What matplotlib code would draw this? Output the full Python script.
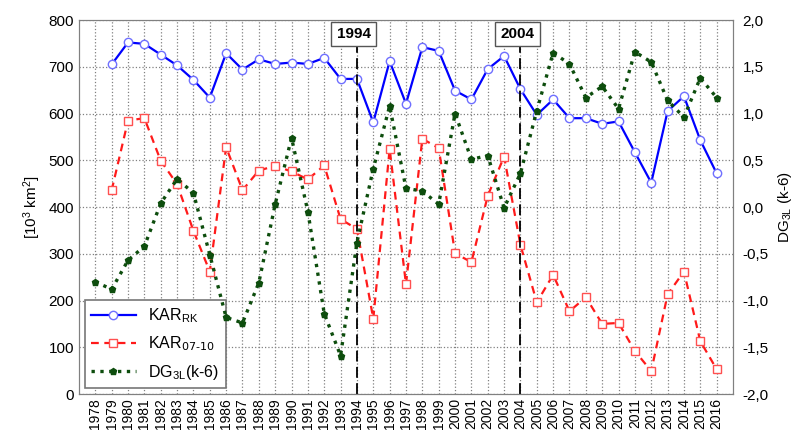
import matplotlib.pyplot as plt
import numpy as np

plt.rcParams['font.family'] = ['Liberation Sans', 'DejaVu Sans']
plt.rcParams['mathtext.default'] = 'regular'

years = list(range(1978, 2017))

# KAR_RK, starts 1979
kar_rk = [np.nan, 705, 752, 749, 726, 703, 672, 634, 729, 694, 716,
          706, 709, 706, 719, 674, 674, 581, 712, 621, 742,
          734, 649, 630, 695, 723, 652, 597, 630, 590, 590,
          578, 583, 517, 452, 605, 637, 543, 472]

# KAR_07-10, starts 1979
kar_0710 = [np.nan, 436, 585, 590, 499, 449, 349, 262, 528, 436, 478,
            488, 476, 459, 489, 374, 353, 161, 524, 235, 546,
            526, 301, 282, 424, 508, 319, 196, 255, 177, 207,
            150, 152, 92, 49, 213, 262, 113, 53]

# DG_3L(k-6), right axis
dg3l = [-0.80, -0.88, -0.57, -0.42, 0.04, 0.30, 0.15, -0.51, -1.18, -1.24, -0.81,
        0.03, 0.74, -0.05, -1.14, -1.59, -0.38, 0.41, 1.08, 0.20, 0.17,
        0.03, 1.00, 0.51, 0.55, -0.01, 0.36, 1.03, 1.65, 1.53, 1.17,
        1.29, 1.05, 1.66, 1.55, 1.14, 0.96, 1.38, 1.17]

marked_years = [1994, 2004]

fig = plt.figure(figsize=(8.01, 4.36), dpi=100)
ax = fig.add_axes([0.0986, 0.0963, 0.8165, 0.8578])
ax2 = ax.twinx()

l1, = ax.plot(years, kar_rk, '-', color='#0000ff', lw=1.6, marker='o',
              ms=6, mfc='white', mec='#6f6fff', mew=1.0, label='KAR$_{RK}$')
l2, = ax.plot(years, kar_0710, '--', color='#ff1a1a', lw=1.6, marker='s',
              ms=6, mfc='white', mec='#ff5050', mew=1.0, dashes=(3.5, 2.5),
              label='KAR$_{\\text{07-10}}$')
l3, = ax2.plot(years, dg3l, ':', color='#0d4d0d', lw=2.4, marker='p',
               ms=4.5, mfc='#0d4d0d', mec='#0d4d0d', label='DG$_{3L}$(k-6)')

ax.set_xlim(1977, 2017)
ax.set_ylim(0, 800)
ax2.set_ylim(-2, 2)
ax.set_xticks(years)
ax.set_xticklabels([str(y) for y in years], rotation=90, fontsize=10)
ax.set_yticks(range(0, 801, 100))
ax.tick_params(axis='y', labelsize=11, length=0)
ax.tick_params(axis='x', length=0, pad=3)
ax2.set_yticks(np.arange(-2, 2.01, 0.5))
ax2.set_yticklabels([('%.1f' % v).replace('.', ',') for v in np.arange(-2, 2.01, 0.5)])
ax2.tick_params(axis='y', labelsize=11, length=0, pad=7)

ax.grid(True, color='#808080', ls=':', lw=0.9)
for sp in list(ax.spines.values()) + list(ax2.spines.values()):
    sp.set_color('#808080')

ax.set_ylabel('[10$^3$ km$^2$]', fontsize=11)
ax2.set_ylabel('DG$_{3L}$ (k-6)', fontsize=11, labelpad=5)

for yr in marked_years:
    ax.axvline(yr, color='black', ls='--', lw=1.3, dashes=(6, 3))
    ax.text(yr - 0.2, 785, str(yr), ha='center', va='top', fontsize=11,
            fontweight='bold', zorder=10,
            bbox=dict(boxstyle='square,pad=0.35', fc='white', ec='#555555', lw=1))

leg = ax.legend(handles=[l1, l2, l3], loc='lower left', fontsize=11.5,
                fancybox=False, edgecolor='#777777', framealpha=1,
                borderaxespad=0.35, handlelength=2.8, labelspacing=0.6)
leg.get_frame().set_linewidth(1.2)
leg.set_zorder(20)

fig.savefig('out.png', dpi=100)
